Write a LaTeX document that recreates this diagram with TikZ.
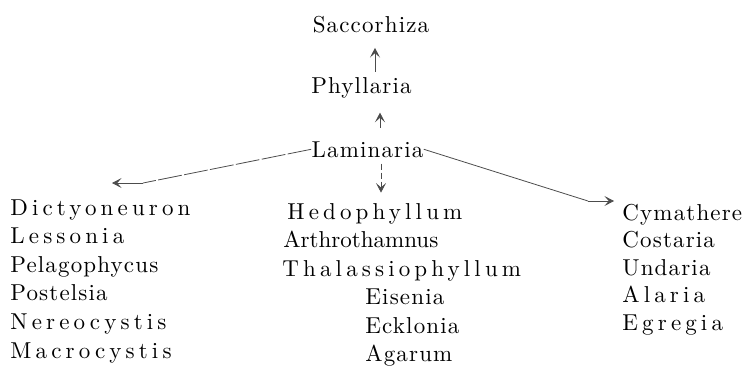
\documentclass[tikz,border=0pt]{standalone}
\usepackage{fontspec}
\setmainfont{lmroman10-regular}[Extension=.otf]
\usetikzlibrary{arrows.meta}

\begin{document}
\begin{tikzpicture}[x=0.5pt, y=-0.5pt,
    >={Stealth[length=4.8pt, width=5pt, inset=2.2pt]},
    font=\fontsize{11.5}{14}\selectfont\addfontfeature{LetterSpace=5}]
  \tikzset{
    genus/.style={inner sep=0pt, anchor=base, text=black},
    entry/.style={genus, anchor=base west},
    spaced/.style={font=\fontsize{11.5}{14}\selectfont\addfontfeature{LetterSpace=18}},
    tight/.style={font=\fontsize{11.5}{14}\selectfont},
    link/.style={draw=black!70, line width=0.4pt},
  }
  \useasboundingbox (0,0) rectangle (744,366);

  % main line
  \node[genus] (sac) at (371,32) {Saccorhiza};
  \node[genus] (phy) at (361.5,93) {Phyllaria};
  \node[genus] (lam) at (367.5,157) {Laminaria};

  % left group
  \node[entry, spaced] (dic) at (10,215) {Dictyoneuron};
  \node[entry, spaced] (les) at (10,243.6) {Lessonia};
  \node[entry] (pel) at (10,272.2) {Pelagophycus};
  \node[entry] (pos) at (10,300.8) {Postelsia};
  \node[entry, spaced] (ner) at (10,329.4) {Nereocystis};
  \node[entry, spaced] (mac) at (10,358) {Macrocystis};

  % middle group
  \node[entry, spaced] (hed) at (287,219) {Hedophyllum};
  \node[entry, tight] (art) at (283,247.6) {Arthrothamnus};
  \node[entry, spaced] (tha) at (282,276.2) {Thalassiophyllum};
  \node[entry] (eis) at (365,304.8) {Eisenia};
  \node[entry] (eck) at (365,333.4) {Ecklonia};
  \node[entry] (aga) at (365,361) {Agarum};

  % right group
  \node[entry] (cym) at (622,220) {Cymathere};
  \node[entry] (cos) at (622,247.5) {Costaria};
  \node[entry] (und) at (622,275) {Undaria};
  \node[entry, spaced] (ala) at (622,302.5) {Alaria};
  \node[entry, spaced] (egr) at (622,330) {Egregia};

  \coordinate (lbend) at (143,183);
  \coordinate (ltip) at (112,183);
  \coordinate (rbend) at (588,201);
  \coordinate (rtip) at (614,201);

  % upward arrows
  \draw[link, ->, shorten <=2.5pt, shorten >=7.5pt]
    ([xshift=6.75pt]phy.north) -- ([xshift=2pt]sac.south);
  \draw[link, ->, shorten <=6.5pt, shorten >=7.25pt]
    ([xshift=6.25pt]lam.north) -- ([xshift=9.25pt]phy.south);

  % downward, dashed
  \draw[link, ->, dash pattern=on 3pt off 1.5pt, shorten <=3pt, shorten >=5pt]
    ([xshift=6.75pt]lam.south) -- ([xshift=6.75pt]lam.south |- hed.north);

  % side branches
  \draw[link, dash pattern=on 12pt off 1.2pt] (lam.west) -- (lbend);
  \draw[link, ->] (lbend) -- (ltip);
  \draw[link] (lam.east) -- (rbend);
  \draw[link, ->] (rbend) -- (rtip);
\end{tikzpicture}
\end{document}
